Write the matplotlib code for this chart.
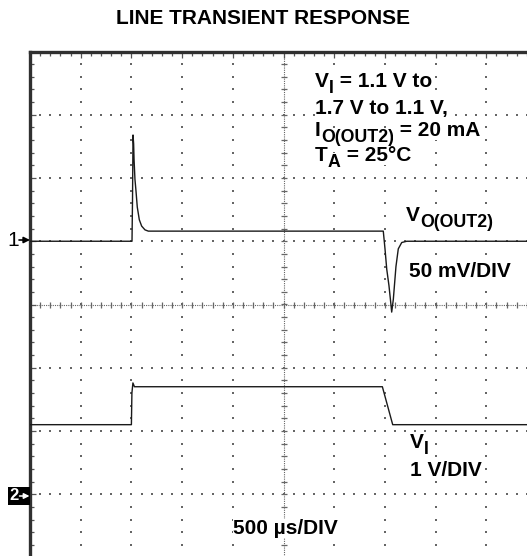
import matplotlib.pyplot as plt
import numpy as np
from matplotlib.ticker import MultipleLocator
from matplotlib.patches import FancyArrowPatch, Rectangle

# Traccia V_I (tempo in us, tensione in V)
vi_t = np.array([0, 1000, 1005, 1015, 1030, 3475, 3577, 5100])
vi_v = np.array([1.1, 1.1, 1.6, 1.76, 1.7, 1.7, 1.1, 1.1])

# Traccia V_O(OUT2) (tempo in us, variazione in mV)
vo_t = np.array([0, 1006, 1011, 1016, 1022, 1026, 1035, 1045, 1058, 1078, 1101, 1134, 1167,
                 3484, 3501, 3518, 3540, 3557, 3567, 3583, 3609, 3632, 3666, 3715, 5100])
vo_mv = np.array([0, 0, 33, 84, 77, 65, 49, 40, 27, 17, 12, 9, 8,
                  8, -6, -22, -35, -48, -56, -46, -20, -6, -1, 0, 0])

# Scale dell'oscilloscopio
t_div = 500       # us/DIV
vo_div = 50       # mV/DIV
vi_div = 1.0      # V/DIV
ch1_ref = 1.0     # posizione canale 1 (div)
ch2_ref = -3.0    # posizione canale 2 (div)

W, H = 527, 556
plt.rcParams.update({
    "font.family": ["Liberation Sans", "DejaVu Sans"],
    "font.weight": "bold",
})

fig = plt.figure(figsize=(W / 100, H / 100), dpi=100)
fig.patch.set_facecolor("white")


def px(x, y):
    return x / W, 1 - y / H


# Area schermo: 10 x 8 divisioni (bordo destro fuori immagine)
left, top, right, bottom = 30, 51.5, 537, 557.5
ax = fig.add_axes([left / W, 1 - bottom / H, (right - left) / W, (bottom - top) / H])
ax.set_xlim(0, 10 * t_div)
ax.set_ylim(-4, 4)

grid_c = "#666666"
# griglia punteggiata
xmaj = np.arange(0, 11) * t_div
ymaj = np.arange(-4, 5)
xmin = np.arange(0, 10 * t_div + 1, t_div / 5)
ymin = np.arange(-4, 4.01, 0.2)
for x in xmaj:
    if x in (0, 5 * t_div):
        continue
    ax.scatter(np.full_like(ymin, x), ymin, s=0.9, marker="s", color=grid_c, lw=0, zorder=1)
for y in ymaj:
    if y in (0, 4):
        continue
    ax.scatter(xmin, np.full_like(xmin, y), s=0.9, marker="s", color=grid_c, lw=0, zorder=1)

# assi centrali con tacche
ax.axhline(0, color=grid_c, lw=0.8, ls=(0, (1, 1)), zorder=1)
ax.axvline(5 * t_div, color=grid_c, lw=0.8, ls=(0, (1, 1)), zorder=1)
hx = 3 / 63.25
hy = 3 / 50.7 * t_div
ax.vlines(xmin, -hx, hx, color=grid_c, lw=0.9, zorder=1)
ax.hlines(ymin, 5 * t_div - hy, 5 * t_div + hy, color=grid_c, lw=0.9, zorder=1)

# cornice
for s in ("right", "bottom"):
    ax.spines[s].set_visible(False)
for s in ("top", "left"):
    ax.spines[s].set_linewidth(2.4)
    ax.spines[s].set_color("#303030")
ax.xaxis.set_major_locator(MultipleLocator(t_div))
ax.xaxis.set_minor_locator(MultipleLocator(t_div / 5))
ax.yaxis.set_major_locator(MultipleLocator(1))
ax.yaxis.set_minor_locator(MultipleLocator(0.2))
ax.tick_params(which="both", direction="in", top=True, bottom=False, left=True, right=False,
               labelbottom=False, labelleft=False, color="#555555", width=0.9)
ax.tick_params(which="major", length=4)
ax.tick_params(which="minor", length=3)

# tracce
ax.plot(vo_t, ch1_ref + vo_mv / vo_div, color="#1a1a1a", lw=1.0, zorder=3)
ax.plot(vi_t, ch2_ref + vi_v / vi_div, color="#1a1a1a", lw=1.0, zorder=3)

# testi
fs = 15
white = dict(facecolor="white", edgecolor="none", pad=0.3)


def rich(x, y, parts, size=fs, drop=4.0):
    """Testo con pedici: parts = [(stringa, pedice?), ...]"""
    t = fig.text(*px(x, y), parts[0][0], fontsize=size, ha="left", va="baseline", bbox=white)
    prev, prev_sub = t, False
    fig.canvas.draw()
    for s, sub in parts[1:]:
        dy = -drop if sub and not prev_sub else (drop if prev_sub and not sub else 0)
        prev = ax.annotate(s, xy=(1, 0), xycoords=prev, xytext=(0, dy), textcoords="offset points",
                           fontsize=size * (0.85 if sub else 1), ha="left", va="bottom",
                           annotation_clip=False, bbox=white, zorder=5)
        prev_sub = sub
    return t


fig.text(*px(263.5, 18), "LINE TRANSIENT RESPONSE", fontsize=15, ha="center", va="center")
rich(315, 87, [("V", False), ("I", True), (" = 1.1 V to", False)])
rich(315, 114, [("1.7 V to 1.1 V,", False)])
rich(315, 136, [("I", False), ("O(OUT2)", True), (" = 20 mA", False)])
rich(315, 161, [("T", False), ("A", True), (" = 25°C", False)])

rich(406, 221, [("V", False), ("O(OUT2)", True)])
rich(409, 277, [("50 mV/DIV", False)])
rich(410, 448, [("V", False), ("I", True)])
rich(410, 476, [("1 V/DIV", False)])
rich(233, 534, [("500 µs/DIV", False)])

# marcatori canali
fig.text(*px(13, 240), "1", fontsize=15, fontweight="normal", ha="center", va="center")
fig.add_artist(FancyArrowPatch(px(19, 240), px(30, 240), transform=fig.transFigure,
                               arrowstyle="-|>", mutation_scale=9, color="black", lw=1.2,
                               shrinkA=0, shrinkB=0))
fig.add_artist(Rectangle(px(8, 505), 22 / W, 18 / H, transform=fig.transFigure,
                         facecolor="black", edgecolor="none"))
fig.text(*px(14, 496), "2", fontsize=12, color="white", ha="center", va="center")
fig.add_artist(FancyArrowPatch(px(19.5, 496), px(29.5, 496), transform=fig.transFigure,
                               arrowstyle="-|>", mutation_scale=8, color="white", lw=1.1,
                               shrinkA=0, shrinkB=0))

fig.savefig("out.png", dpi=100, facecolor="white")
